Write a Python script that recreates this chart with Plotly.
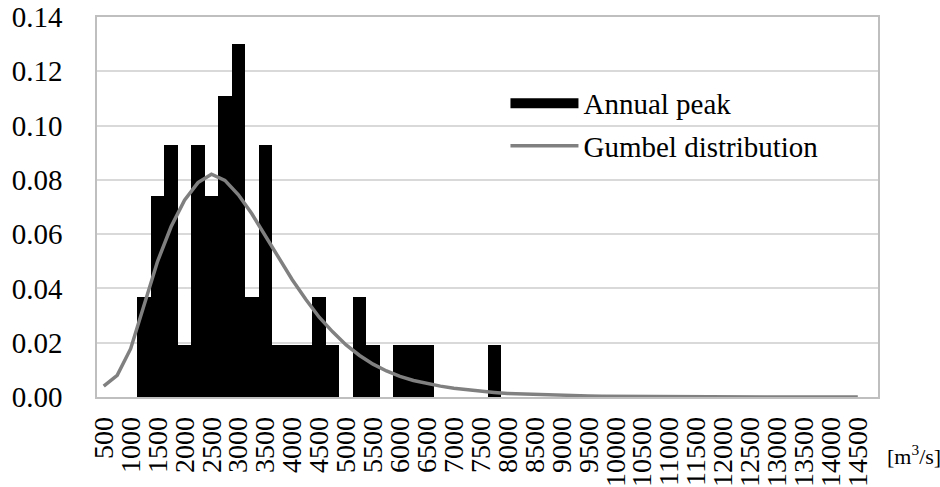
import plotly.graph_objects as go

# Discharge classes (m^3/s), 250 wide; every second one is labelled
bins = list(range(500, 14751, 250))
tick_values = list(range(500, 14501, 500))
tick_labels = [str(v) for v in tick_values]

# Relative frequency of observed annual peak discharge per class
peak_freq = [
    0.0, 0.0, 0.0, 0.037, 0.074, 0.093, 0.019, 0.093, 0.074, 0.111,
    0.130, 0.037, 0.093, 0.019, 0.019, 0.019, 0.037, 0.019, 0.0, 0.037,
    0.019, 0.0, 0.019, 0.019, 0.019, 0.0, 0.0, 0.0, 0.0, 0.019,
] + [0.0] * 28

# Fitted Gumbel distribution, probability per class (500 ... 14500)
gumbel_prob = [
    0.0040, 0.0080, 0.0178, 0.0340, 0.0500, 0.0627, 0.0725, 0.0790, 0.0821, 0.0798,
    0.0745, 0.0675, 0.0592, 0.0512, 0.0432, 0.0360, 0.0294, 0.0240, 0.0192, 0.0153,
    0.0121, 0.0096, 0.0076, 0.0061, 0.0049, 0.0040, 0.0032, 0.0026, 0.0021, 0.0017,
    0.0013, 0.0011, 0.0009, 0.0007, 0.0006, 0.0005, 0.0004, 0.0003, 0.00025, 0.0002,
    0.00016, 0.00013, 0.0001, 0.00008, 0.00007, 0.00005, 0.00004, 0.00003, 0.00003, 0.00002,
    0.00002, 0.00001, 0.00001, 0.00001, 0.00001, 0.0, 0.0,
]

FONT = "Liberation Serif, Times New Roman, serif"
FS = 29

fig = go.Figure()

fig.add_trace(go.Bar(
    x=bins, y=peak_freq, width=250,
    marker=dict(color="#000000", line=dict(width=0)),
    name="Annual peak", showlegend=False,
))
# legend entry for the bars: a thick black stroke reads as a wide swatch
fig.add_trace(go.Scatter(
    x=[None], y=[None], mode="lines",
    line=dict(color="#000000", width=12),
    name="Annual peak", legendgroup="a",
))
fig.add_trace(go.Scatter(
    x=bins[:len(gumbel_prob)], y=gumbel_prob, mode="lines",
    line=dict(color="#808080", width=3.5),
    name="Gumbel distribution", legendgroup="b",
))

fig.update_layout(
    width=940, height=487,
    margin=dict(l=97, r=62, t=17, b=90),
    paper_bgcolor="white", plot_bgcolor="white",
    font=dict(family=FONT, size=FS, color="#000000"),
    bargap=0,
    showlegend=True,
    legend=dict(
        x=0.523, y=0.84, xanchor="left", yanchor="top",
        bgcolor="rgba(0,0,0,0)", borderwidth=0,
        font=dict(family=FONT, size=FS),
        itemwidth=68, tracegroupgap=2,
        traceorder="grouped",
    ),
    xaxis=dict(
        range=[375, 14875],
        tickmode="array", tickvals=tick_values, ticktext=tick_labels,
        tickangle=-90, ticks="",
        showgrid=False, zeroline=False,
        showline=True, linecolor="#BFBFBF", linewidth=1.5, mirror=True,
        ticklabelstandoff=7, automargin=False,
        tickfont=dict(family=FONT, size=28),
    ),
    yaxis=dict(
        range=[0, 0.14], dtick=0.02, tickformat=".2f",
        showgrid=True, gridcolor="#D9D9D9", gridwidth=1.5,
        zeroline=False, ticks="",
        showline=True, linecolor="#BFBFBF", linewidth=1.5, mirror=True,
        ticklabelstandoff=27, automargin=False,
        tickfont=dict(family=FONT, size=FS),
    ),
    # white panel behind the legend, above the gridlines
    shapes=[dict(
        type="rect", xref="paper", yref="paper",
        x0=0.4686, x1=0.9808, y0=0.60, y1=0.835,
        fillcolor="white", line=dict(width=0), layer="between",
    )],
    annotations=[dict(
        text="[m<sup>3</sup>/s]", xref="paper", yref="paper",
        x=1.009, y=-0.153, xanchor="left", yanchor="middle",
        showarrow=False, font=dict(family=FONT, size=22),
    )],
)

fig.write_html("out.html")
